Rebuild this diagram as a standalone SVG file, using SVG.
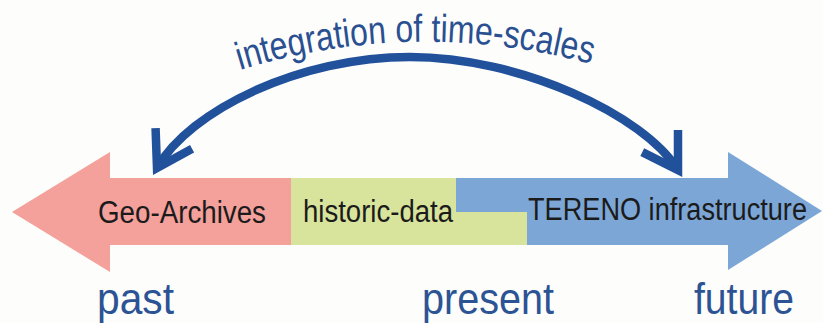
<svg xmlns="http://www.w3.org/2000/svg" width="823" height="323" viewBox="0 0 823 323">
  <style>
    .box-label { font-family: "Liberation Sans", Arial, sans-serif; font-size: 31px; fill: #1b1b1b; }
    .time-label { font-family: "Liberation Sans", Arial, sans-serif; font-size: 44px; fill: #2c5394; }
    .arc-label { font-family: "Liberation Sans", Arial, sans-serif; font-size: 39px; fill: #2a5092; }
    .arc { fill: none; stroke: #22519b; stroke-width: 8.5; }
  </style>
  <defs>
    <!-- open chevron head for the time-scale arc -->
    <marker id="chevron" markerUnits="userSpaceOnUse" orient="auto-start-reverse" refX="0" refY="0" markerWidth="60" markerHeight="60" overflow="visible">
      <path d="M -34,-21 L 0,0 L -34,21" fill="none" stroke="#22519b" stroke-width="8.5" stroke-linejoin="miter" stroke-miterlimit="10"/>
    </marker>
    <path id="arcText" d="M 240,70 Q 417,16 595,65"/>
  </defs>

  <rect width="823" height="323" fill="#fdfdfc"/>

  <!-- future: TERENO infrastructure (drawn first, green step overlaps it) -->
  <g id="tereno">
    <polygon points="456,178 728,178 728,152 822,211 728,270 728,245 456,245" fill="#7ba6d6"/>
    <text class="box-label" x="528" y="220" textLength="279" lengthAdjust="spacingAndGlyphs">TERENO infrastructure</text>
  </g>

  <!-- past: Geo-Archives -->
  <g id="geo-archives">
    <polygon points="12,212 110,152 110,178 292,178 292,245 110,245 110,272" fill="#f4a09b"/>
    <text class="box-label" x="98" y="223" textLength="168" lengthAdjust="spacingAndGlyphs">Geo-Archives</text>
  </g>

  <!-- present: historic data -->
  <g id="historic-data">
    <polygon points="291,178 456,178 456,212 527,212 527,245 291,245" fill="#d8e39c"/>
    <text class="box-label" x="303" y="222" textLength="150" lengthAdjust="spacingAndGlyphs">historic-data</text>
  </g>

  <!-- connectors -->
  <g id="connectors">
    <path class="arc" d="M 157,168 C 190,110 300,57 410,57 C 520,57 644,115 678,170" marker-start="url(#chevron)" marker-end="url(#chevron)"/>
  </g>

  <g id="arc-caption">
    <text class="arc-label"><textPath href="#arcText" textLength="356" lengthAdjust="spacingAndGlyphs">integration of time-scales</textPath></text>
  </g>

  <g id="time-axis">
    <text class="time-label" x="97" y="314" textLength="77" lengthAdjust="spacingAndGlyphs">past</text>
    <text class="time-label" x="422" y="314" textLength="132" lengthAdjust="spacingAndGlyphs">present</text>
    <text class="time-label" x="694" y="314" textLength="100" lengthAdjust="spacingAndGlyphs">future</text>
  </g>
</svg>
